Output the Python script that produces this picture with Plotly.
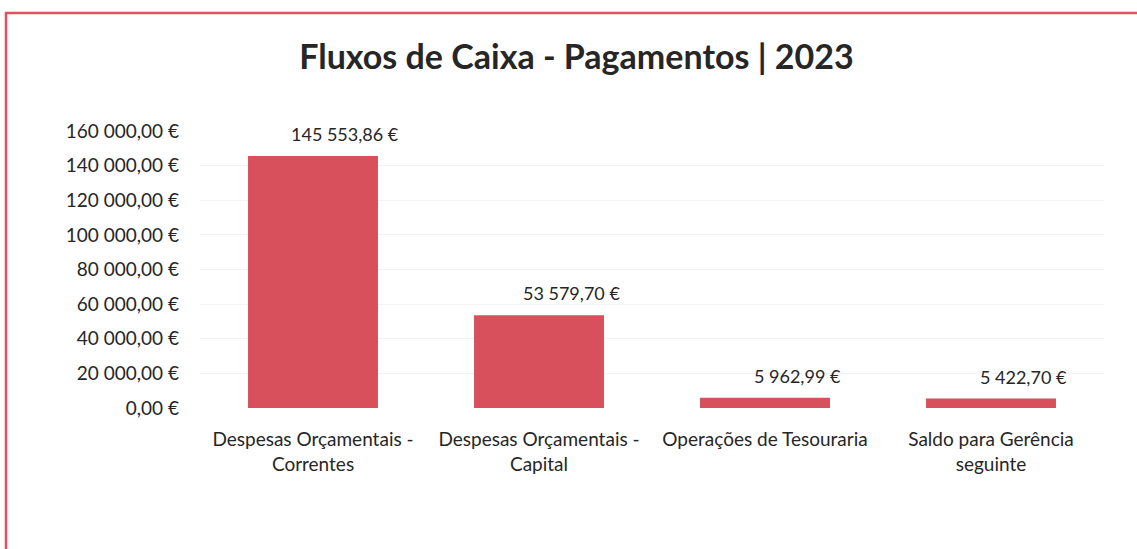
import plotly.graph_objects as go

categories = ["Despesas Orçamentais -<br>Correntes", "Despesas Orçamentais -<br>Capital",
              "Operações de Tesouraria", "Saldo para Gerência<br>seguinte"]
values = [145553.86, 53579.70, 5962.99, 5422.70]
y_ticks = [0, 20000, 40000, 60000, 80000, 100000, 120000, 140000, 160000]

def fmt(v):
    s = f"{v:,.2f}"
    s = s.replace(",", " ").replace(".", ",")
    return s + " €"

BAR = "#d9505d"
FONT = "Lato, 'Liberation Sans', sans-serif"
TXT = "#262626"

fig = go.Figure()
fig.add_trace(go.Bar(x=categories, y=values, marker=dict(color=BAR, line=dict(width=0)),
                     hoverinfo="skip"))

for c, v in zip(categories, values):
    fig.add_annotation(x=c, y=v, text=fmt(v), showarrow=False, xshift=32, yshift=22,
                       yanchor="middle", font=dict(size=18, color=TXT, family=FONT))

fig.update_layout(
    width=1137, height=549,
    margin=dict(l=200, r=33, t=131, b=141),
    paper_bgcolor="white", plot_bgcolor="white",
    bargap=0.425,
    showlegend=False,
    title=dict(text="<b>Fluxos de Caixa - Pagamentos | 2023</b>", x=0.507, xanchor="center",
               y=1 - 57 / 549, yanchor="middle",
               font=dict(size=34, color=TXT, family=FONT)),
    font=dict(family=FONT, color=TXT, size=19),
    shapes=[dict(type="rect", xref="paper", yref="paper",
                 x0=(6 - 200) / 904, x1=(1220 - 200) / 904,
                 y0=(408 - 620) / 277, y1=(408 - 13) / 277,
                 line=dict(color="#e0505e", width=2.5), layer="above")],
)
fig.update_yaxes(range=[0, 160000], tickvals=y_ticks, ticktext=[fmt(t) for t in y_ticks],
                 showgrid=True, gridcolor="#f3f3f3", gridwidth=1, zeroline=False,
                 showline=False, ticks="", ticklabelstandoff=20,
                 tickfont=dict(size=19, color=TXT, family=FONT))
fig.update_xaxes(showline=False, ticks="", ticklabelstandoff=18,
                 tickfont=dict(size=19, color=TXT, family=FONT))

fig.write_html("out.html", config={"displayModeBar": False},
               post_script="document.body.style.margin='0';")
